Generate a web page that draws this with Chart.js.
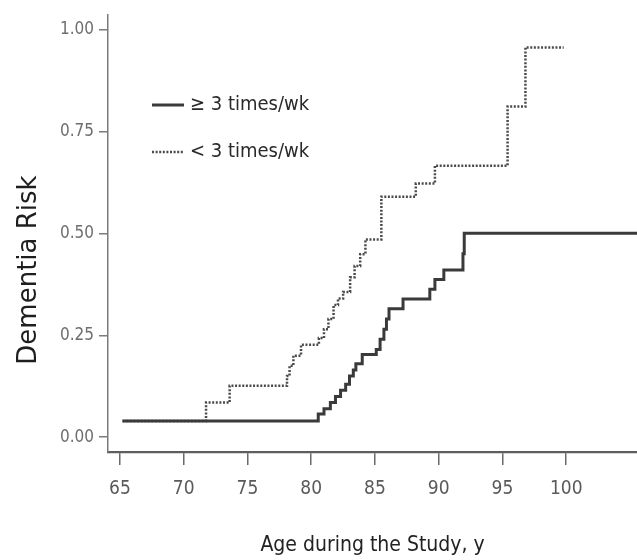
<!DOCTYPE html>
<html>
<head>
<meta charset="utf-8">
<script src="https://cdn.jsdelivr.net/npm/chart.js@4/dist/chart.umd.min.js"></script>
<style>
  html, body { margin: 0; padding: 0; background: #ffffff; }
  #wrap { width: 637px; height: 560px; }
</style>
</head>
<body>
<div id="wrap"><canvas id="c" width="637" height="560"></canvas></div>
<script>
// ---- Data ----
const seriesLabels = ['\u2265 3 times/wk', '< 3 times/wk'];

const ageFrequent  = [65.2, 80.55, 81.0, 81.5, 81.9, 82.3, 82.7, 83.0, 83.3, 83.5, 84.0, 85.1, 85.4, 85.7, 85.9, 86.1, 87.2, 89.3, 89.7, 90.4, 91.9, 92.0, 105.55];
const riskFrequent = [0.04, 0.057, 0.07, 0.085, 0.10, 0.115, 0.13, 0.15, 0.165, 0.18, 0.203, 0.215, 0.24, 0.265, 0.29, 0.315, 0.339, 0.363, 0.387, 0.41, 0.45, 0.50, 0.50];

const ageRare  = [65.2, 71.75, 73.6, 78.1, 78.3, 78.6, 79.2, 80.6, 81.0, 81.35, 81.75, 82.1, 82.5, 83.05, 83.4, 83.84, 84.25, 85.5, 88.2, 89.7, 95.4, 96.8, 99.8];
const riskRare = [0.04, 0.085, 0.126, 0.15, 0.175, 0.20, 0.227, 0.243, 0.265, 0.29, 0.324, 0.34, 0.356, 0.392, 0.42, 0.449, 0.485, 0.59, 0.622, 0.666, 0.811, 0.956, 0.956];

const xTickValues = [65, 70, 75, 80, 85, 90, 95, 100];
const yTickValues = [0, 0.25, 0.5, 0.75, 1.0];

const xTitle = 'Age during the Study, y';
const yTitle = 'Dementia Risk';

// ---- Build chart ----
const toPoints = (xs, ys) => xs.map((x, i) => ({ x: x, y: ys[i] }));
const NARROW = "'Liberation Sans Narrow', 'DejaVu Sans Condensed', 'Arial Narrow', sans-serif";

const insideLegend = {
  id: 'insideLegend',
  afterDraw(chart) {
    const ctx = chart.ctx;
    const rows = [{ y: 105 }, { y: 152 }];
    chart.data.datasets.forEach((ds, i) => {
      const y = rows[i].y;
      ctx.save();
      ctx.strokeStyle = ds.borderColor;
      ctx.lineWidth = ds.borderWidth;
      ctx.setLineDash(ds.borderDash || []);
      ctx.beginPath();
      ctx.moveTo(152, y);
      ctx.lineTo(184, y);
      ctx.stroke();
      ctx.setLineDash([]);
      ctx.fillStyle = '#2a2a2a';
      ctx.font = "20px " + NARROW;
      ctx.textBaseline = 'middle';
      ctx.textAlign = 'left';
      ctx.fillText(ds.label, 190, y);
      ctx.restore();
    });
  }
};

const yTitlePlugin = {
  id: 'yTitlePlugin',
  afterDraw(chart) {
    const ctx = chart.ctx;
    ctx.save();
    ctx.translate(29, 270);
    ctx.rotate(-Math.PI / 2);
    ctx.fillStyle = '#1e1e1e';
    ctx.font = "26px 'DejaVu Sans', sans-serif";
    ctx.textAlign = 'center';
    ctx.textBaseline = 'middle';
    ctx.fillText(yTitle, 0, 0);
    ctx.restore();
  }
};

new Chart(document.getElementById('c'), {
  type: 'line',
  data: {
    datasets: [
      {
        label: seriesLabels[0],
        data: toPoints(ageFrequent, riskFrequent),
        borderColor: '#3a3a3a',
        borderWidth: 3,
        stepped: true,
        pointRadius: 0,
        fill: false
      },
      {
        label: seriesLabels[1],
        data: toPoints(ageRare, riskRare),
        borderColor: '#4a4a4a',
        borderWidth: 2.5,
        borderDash: [2, 1.6],
        stepped: true,
        pointRadius: 0,
        fill: false
      }
    ]
  },
  options: {
    responsive: false,
    animation: false,
    devicePixelRatio: 1,
    layout: { padding: { top: 10, right: 0, bottom: 0, left: 0 } },
    plugins: {
      legend: { display: false },
      tooltip: { enabled: false }
    },
    scales: {
      x: {
        type: 'linear',
        min: 64.06,
        max: 105.55,
        afterBuildTicks: (s) => { s.ticks = xTickValues.map(v => ({ value: v })); },
        afterFit: (s) => { s.height = 108; },
        grid: { drawOnChartArea: false, drawTicks: true, tickLength: 13, color: '#6a6a6a', lineWidth: 1.5 },
        border: { display: true, color: '#5e5e5e', width: 2.2 },
        ticks: {
          color: '#5a5a5a',
          font: { family: NARROW, size: 19 },
          padding: 13,
          maxRotation: 0,
          autoSkip: false
        },
        title: {
          display: true,
          text: xTitle,
          color: '#222222',
          font: { family: NARROW, size: 21 },
          padding: { top: 0, bottom: 2 }
        }
      },
      y: {
        type: 'linear',
        min: -0.0363,
        max: 1.035,
        afterBuildTicks: (s) => { s.ticks = yTickValues.map(v => ({ value: v })); },
        afterFit: (s) => { s.width = 108; },
        grid: { drawOnChartArea: false, drawTicks: true, tickLength: 9, color: '#7a7a7a', lineWidth: 1.5 },
        border: { display: true, color: '#7a7a7a', width: 1.5 },
        ticks: {
          color: '#6e6e6e',
          font: { family: NARROW, size: 17 },
          padding: 5,
          callback: (v) => Number(v).toFixed(2)
        },
        title: { display: false, text: yTitle }
      }
    }
  },
  plugins: [insideLegend, yTitlePlugin]
});
</script>
</body>
</html>
